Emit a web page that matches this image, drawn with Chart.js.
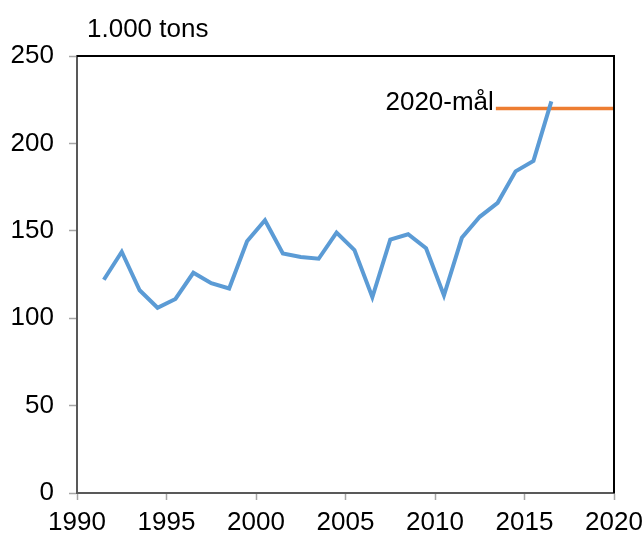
<!DOCTYPE html>
<html>
<head>
<meta charset="utf-8">
<script src="https://cdn.jsdelivr.net/npm/chart.js@4"></script>
<style>
  html, body { margin: 0; padding: 0; background: #fff; }
  #wrap { width: 644px; height: 535px; }
</style>
</head>
<body>
<div id="wrap"><canvas id="chart" width="644" height="535"></canvas></div>
<script>
// Data
const years = [1991, 1992, 1993, 1994, 1995, 1996, 1997, 1998, 1999, 2000,
               2001, 2002, 2003, 2004, 2005, 2006, 2007, 2008, 2009, 2010,
               2011, 2012, 2013, 2014, 2015, 2016];
const tons = [122, 138, 116, 106, 111, 126, 120, 117, 144, 156,
              137, 135, 134, 149, 139, 112, 145, 148, 140, 113,
              146, 158, 166, 184, 190, 224];
const goalYears = [2013.4, 2020];
const goalValue = 220;
const goalLabel = '2020-mål';
const unitLabel = '1.000 tons';
const xTicks = [1990, 1995, 2000, 2005, 2010, 2015, 2020];
const yTicks = [0, 50, 100, 150, 200, 250];

const FONT = "'Liberation Sans', Arial, sans-serif";

// points sit in the middle of each year
const lineData = years.map((y, i) => ({ x: y + 0.5, y: tons[i] }));
const goalData = goalYears.map(y => ({ x: y, y: goalValue }));

const extras = {
    id: 'extras',
    afterDraw(chart) {
        const ctx = chart.ctx;
        const a = chart.chartArea;
        const xs = chart.scales.x, ys = chart.scales.y;
        ctx.save();
        // top and right frame
        ctx.strokeStyle = '#000';
        ctx.lineWidth = 2;
        ctx.beginPath();
        ctx.moveTo(a.left, a.top);
        ctx.lineTo(a.right, a.top);
        ctx.lineTo(a.right, a.bottom);
        ctx.stroke();
        // texts
        ctx.fillStyle = '#000';
        ctx.font = '26px ' + FONT;
        ctx.textAlign = 'left';
        ctx.textBaseline = 'alphabetic';
        ctx.fillText(unitLabel, 87, 37);
        ctx.textAlign = 'right';
        ctx.fillText(goalLabel, xs.getPixelForValue(goalYears[0]) - 2, ys.getPixelForValue(goalValue) + 2);
        ctx.restore();
    }
};

new Chart(document.getElementById('chart'), {
    type: 'line',
    data: {
        datasets: [
            {
                label: 'tons',
                data: lineData,
                borderColor: '#5B9BD5',
                borderWidth: 4,
                pointRadius: 0,
                tension: 0
            },
            {
                label: 'goal',
                data: goalData,
                borderColor: '#ED7D31',
                borderWidth: 3.5,
                pointRadius: 0
            }
        ]
    },
    options: {
        responsive: false,
        animation: false,
        events: [],
        layout: { padding: { top: 56, right: 30, left: 0, bottom: 0 } },
        plugins: {
            legend: { display: false },
            tooltip: { enabled: false }
        },
        scales: {
            x: {
                type: 'linear',
                min: 1990,
                max: 2020,
                afterBuildTicks: s => { s.ticks = xTicks.map(v => ({ value: v })); },
                afterFit: s => { s.height = 42; s.paddingLeft = 0; s.paddingRight = 0; },
                ticks: {
                    callback: v => String(v),
                    color: '#000',
                    font: { family: FONT, size: 26 },
                    padding: 7,
                    maxRotation: 0
                },
                grid: {
                    drawOnChartArea: false,
                    tickLength: 7,
                    tickColor: '#a6a6a6',
                    tickWidth: 1.5
                },
                border: { color: '#595959', width: 2 }
            },
            y: {
                min: 0,
                max: 250,
                afterBuildTicks: s => { s.ticks = yTicks.map(v => ({ value: v })); },
                afterFit: s => { s.width = 77; s.paddingTop = 0; s.paddingBottom = 0; },
                ticks: {
                    callback: v => String(v),
                    color: '#000',
                    font: { family: FONT, size: 26 },
                    padding: 15
                },
                grid: {
                    drawOnChartArea: false,
                    tickLength: 8,
                    tickColor: '#a6a6a6',
                    tickWidth: 1.5
                },
                border: { color: '#595959', width: 2 }
            }
        }
    },
    plugins: [extras]
});
</script>
</body>
</html>
